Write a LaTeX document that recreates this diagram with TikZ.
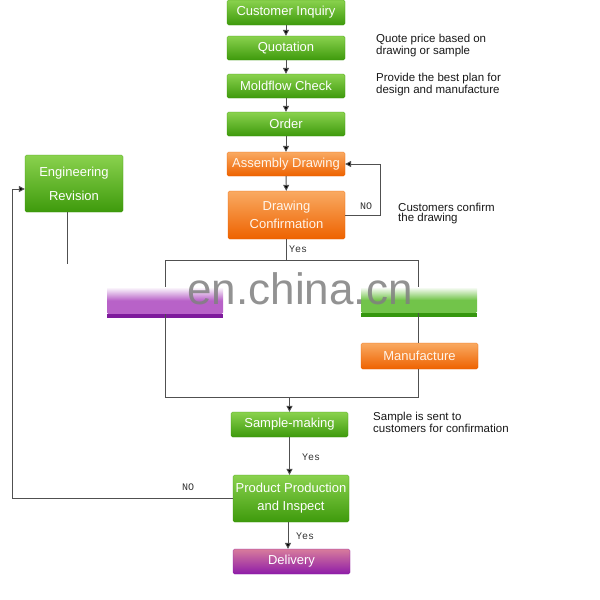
\documentclass[tikz,border=0pt]{standalone}
\usepackage{fontspec}
\setmainfont{Liberation Sans}
\setmonofont{Liberation Mono}
\usetikzlibrary{arrows.meta}
\definecolor{gtop}{HTML}{8AD24E}
\definecolor{gbot}{HTML}{3E9A0C}
\definecolor{otop}{HTML}{F9AA62}
\definecolor{obot}{HTML}{EE6200}
\definecolor{ptop}{HTML}{D87C9C}
\definecolor{pbot}{HTML}{8E1CA8}
\definecolor{ln}{HTML}{505050}
\definecolor{pbar}{HTML}{B862C8}
\definecolor{pbard}{HTML}{7E1A9C}
\definecolor{gbar}{HTML}{72C44A}
\definecolor{gbard}{HTML}{35960E}
\tikzset{
 box/.style={rounded corners=1.5pt, inner sep=0pt, text=white, font=\fontsize{13}{18}\selectfont, align=center, line width=0.3pt},
 gbox/.style={box, top color=gtop, bottom color=gbot, draw=gbot},
 obox/.style={box, top color=otop, bottom color=obot, draw=obot, text=white!92!orange},
 dbox/.style={box, top color=ptop, bottom color=pbot, draw=pbot},
 conn/.style={draw=ln, line width=0.9pt},
 arr/.style={conn, -{Triangle[length=6pt,width=6pt,fill=black]}},
 note/.style={anchor=north west, align=left, font=\fontsize{11.5}{10}\selectfont, text=black!90, inner sep=0pt},
 lab/.style={font=\ttfamily\fontsize{10}{10}\selectfont, text=black!80, inner sep=0pt}
}
\begin{document}
\begin{tikzpicture}[x=1pt,y=-1pt]
\useasboundingbox[fill=white] (0,0) rectangle (600,600);
% boxes
\node[gbox, minimum width=118pt, minimum height=25pt] (ci) at (286,12.5) {Customer Inquiry};
\node[gbox, minimum width=118pt, minimum height=24pt] (quo) at (286,48) {Quotation};
\node[gbox, minimum width=118pt, minimum height=24pt] (mold) at (286,86) {Moldflow Check};
\node[gbox, minimum width=118pt, minimum height=24pt] (ord) at (286,124) {Order};
\node[obox, minimum width=118pt, minimum height=24pt] (asm) at (286,164) {Assembly Drawing};
\node[obox, minimum width=117pt, minimum height=48pt] (dc) at (286.5,215) {Drawing\\Confirmation};
\node[gbox, minimum width=98pt, minimum height=57pt, font=\fontsize{13}{24}\selectfont] (er) at (74,183.5) {Engineering\\Revision};
\node[box, minimum width=116pt, minimum height=27pt, top color=white, bottom color=pbar, middle color=pbar, draw=none] (pb) at (165,300.5) {};
\fill[pbard] ([yshift=-4pt]pb.south west) rectangle (pb.south east);
\node[box, minimum width=116pt, minimum height=26pt, top color=white, bottom color=gbar, middle color=gbar, draw=none] (gb) at (419,300) {};
\fill[gbard] ([yshift=-4pt]gb.south west) rectangle (gb.south east);
\node[obox, minimum width=117pt, minimum height=26pt] (man) at (419.5,356) {Manufacture};
\node[gbox, minimum width=117pt, minimum height=25pt] (sm) at (289.5,424.5) {Sample-making};
\node[gbox, minimum width=116pt, minimum height=47pt] (pp) at (291,498.5) {Product Production\\and Inspect};
\node[dbox, minimum width=117pt, minimum height=25pt] (del) at (291.5,561.5) {Delivery};
% watermark
\node[font=\fontsize{44}{44}\selectfont, text=black!50, opacity=0.85, inner sep=0pt] (wm) at (300,289) {en.china.cn};
% notes
\node[note] (n1) at (376,34) {Quote price based on\\drawing or sample};
\node[note] (n2) at (376,73) {Provide the best plan for\\design and manufacture};
\node[note] (n3) at (398,203) {Customers confirm\\the drawing};
\node[note] (n4) at (373,412) {Sample is sent to\\customers for confirmation};
% coordinates
\coordinate (loopR) at (380,215);
\coordinate (splitL) at (165,260);
\coordinate (splitR) at (418,260);
\coordinate (joinL) at (165,397);
\coordinate (joinR) at (418,397);
\coordinate (joinM) at (289.5,397);
\coordinate (leftB) at (12,498);
\coordinate (leftT) at (12,189);
\coordinate (erEnd) at (67,264);
% connectors
\draw[arr] (ci) -- (quo);
\draw[arr] (quo) -- (mold);
\draw[arr] (mold) -- (ord);
\draw[arr] (ord) -- (asm);
\draw[arr] (asm) -- (dc);
\draw[arr] (dc.east |- loopR) -- (loopR) |- (asm.east);
\node[lab] (no1) at (366,206) {NO};
\draw[conn] (dc.south) -- (dc.south |- splitL);
\node[lab] (yes1) at (298,249) {Yes};
\draw[conn] (splitL) -- (splitR);
\draw[conn] (splitL) -- (pb.north -| splitL);
\draw[conn] (splitR) -- (gb.north -| splitR);
\draw[conn] (pb.south -| joinL) -- (joinL) -- (joinR) -- (man.south -| joinR);
\draw[conn] (gb.south -| splitR) -- (man.north -| splitR);
\draw[arr] (joinM) -- (sm.north);
\draw[arr] (sm.south) -- (sm.south |- pp.north);
\node[lab] (yes2) at (311,457) {Yes};
\draw[arr] (pp.south -| 288,0) -- (del.north -| 288,0);
\node[lab] (yes3) at (305,536) {Yes};
\draw[arr] (pp.west |- leftB) -- (leftB) -- (leftT) -- (er.west |- leftT);
\node[lab] (no2) at (188,487) {NO};
\draw[conn] (er.south -| erEnd) -- (erEnd);
\end{tikzpicture}
\end{document}
